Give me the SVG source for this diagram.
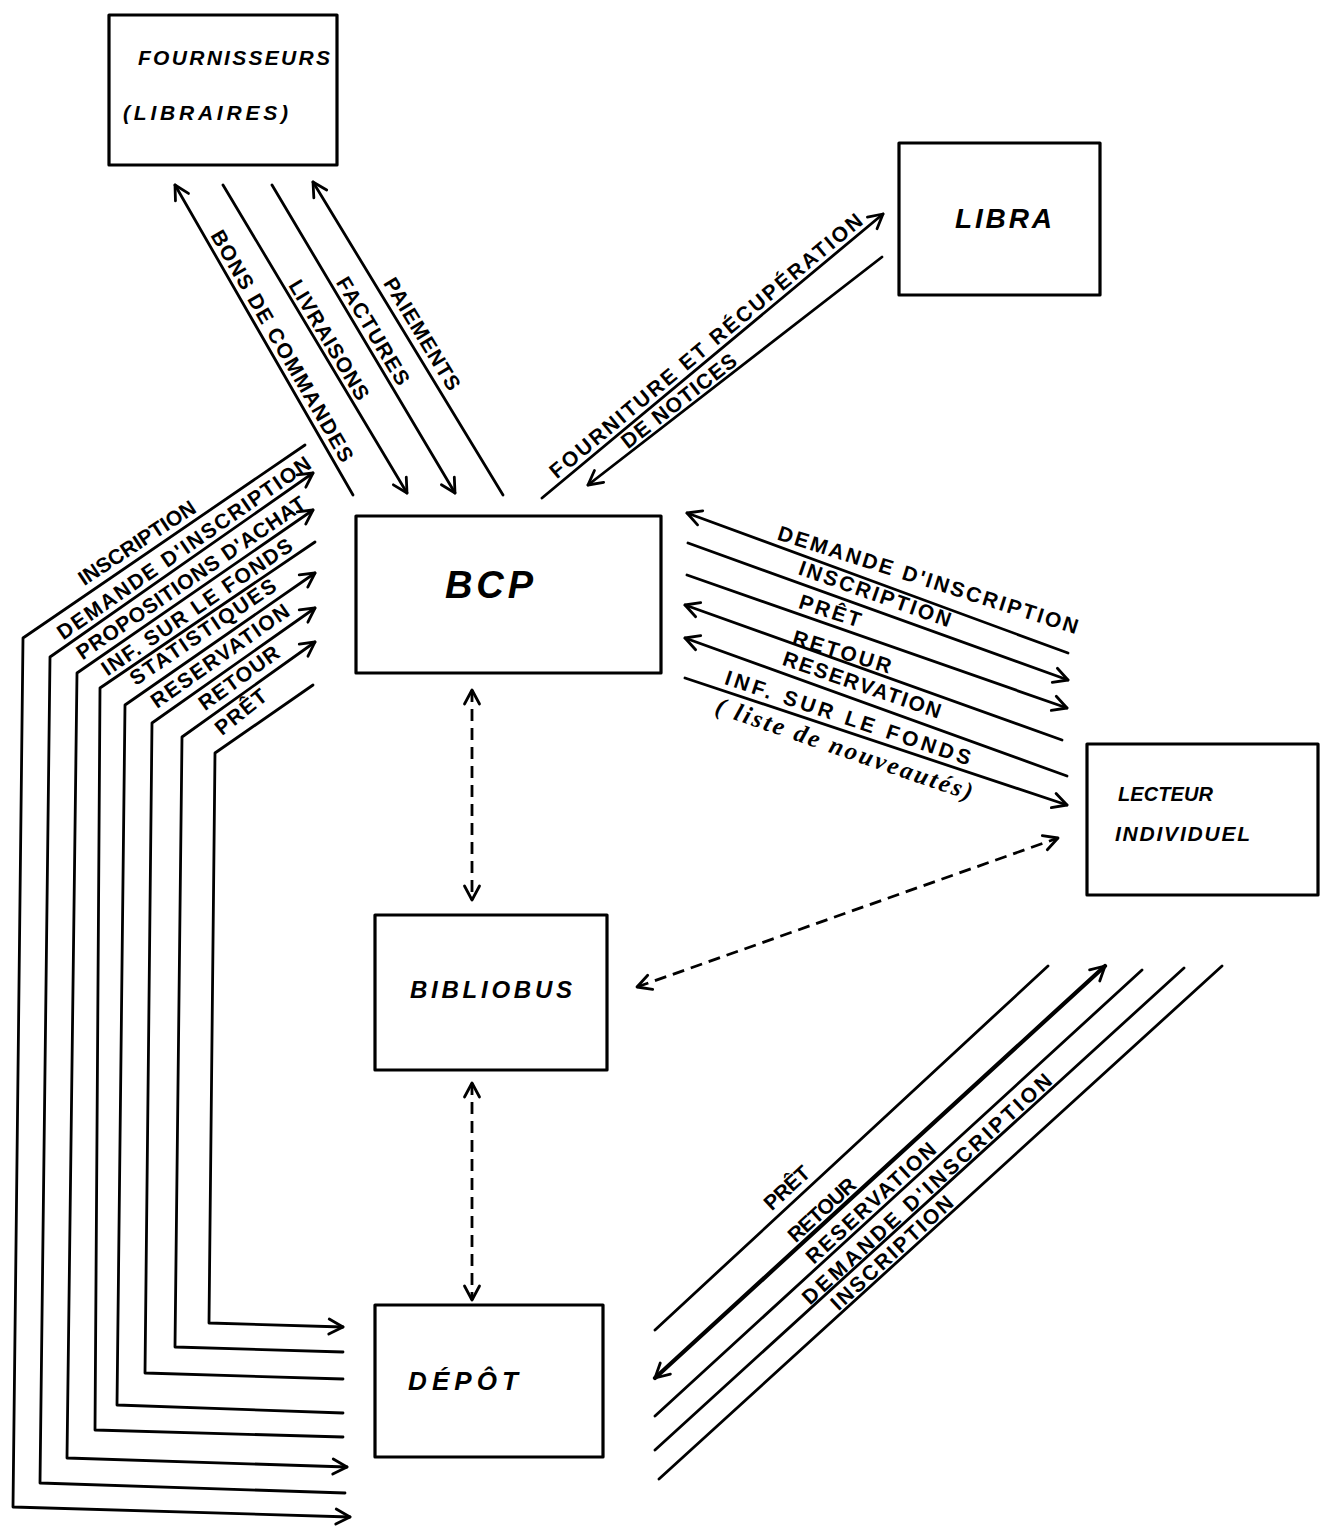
<svg xmlns="http://www.w3.org/2000/svg" width="1321" height="1530" viewBox="0 0 1321 1530">
<style>
.box{fill:none;stroke:#000;stroke-width:3.2;stroke-linejoin:round}
.conn line,.conn polyline{fill:none;stroke:#000;stroke-width:2.8;stroke-linecap:round;stroke-linejoin:round}
.conn .thick{stroke-width:4.2}
.conn .dash{stroke-width:2.8;stroke-dasharray:12 7;stroke-linecap:butt}
.node{font-family:"Liberation Sans",Arial,sans-serif;font-weight:bold;font-style:italic;fill:#000}
.lbl{font-family:"Liberation Sans",Arial,sans-serif;font-weight:bold;font-size:21px;fill:#000}
.hand{font-family:"Liberation Serif","Times New Roman",serif;font-style:italic;font-weight:bold;font-size:25px;fill:#000}
</style>
<defs>
<marker id="ah" viewBox="0 0 20 20" refX="18" refY="10" markerWidth="20" markerHeight="20" markerUnits="userSpaceOnUse" orient="auto-start-reverse">
<path d="M4,2.5 L18,10 L4,17.5" fill="none" stroke="#000" stroke-width="2.8" stroke-linecap="round" stroke-linejoin="round"/>
</marker>
</defs>
<rect width="1321" height="1530" fill="#fff"/>

<g id="fournisseurs">
<rect class="box" x="109" y="15" width="228" height="150"/>
<text class="node" font-size="21" x="138" y="65" textLength="192">FOURNISSEURS</text>
<text class="node" font-size="21" x="123" y="120" textLength="165">(LIBRAIRES)</text>
</g>
<g id="libra">
<rect class="box" x="899" y="143" width="201" height="152"/>
<text class="node" font-size="28" x="955" y="228" textLength="97">LIBRA</text>
</g>
<g id="bcp">
<rect class="box" x="356" y="516" width="305" height="157"/>
<text class="node" font-size="38" x="445" y="598" textLength="88">BCP</text>
</g>
<g id="bibliobus">
<rect class="box" x="375" y="915" width="232" height="155"/>
<text class="node" font-size="24" x="410" y="998" textLength="162">BIBLIOBUS</text>
</g>
<g id="depot">
<rect class="box" x="375" y="1305" width="228" height="152"/>
<text class="node" font-size="26" x="408" y="1390" textLength="110">DÉPÔT</text>
</g>
<g id="lecteur">
<rect class="box" x="1087" y="744" width="231" height="151"/>
<text class="node" font-size="20" x="1118" y="801" textLength="95">LECTEUR</text>
<text class="node" font-size="21" x="1115" y="841" textLength="135">INDIVIDUEL</text>
</g>

<g id="connectors" class="conn">
<line x1="353" y1="495" x2="175" y2="185" marker-end="url(#ah)"/>
<line x1="223" y1="185" x2="407" y2="493" marker-end="url(#ah)"/>
<line x1="272" y1="185" x2="455" y2="493" marker-end="url(#ah)"/>
<line x1="503" y1="495" x2="313" y2="182" marker-end="url(#ah)"/>
<line x1="542" y1="498" x2="883" y2="214" marker-end="url(#ah)"/>
<line x1="882" y1="257" x2="588" y2="485" marker-end="url(#ah)"/>
<line x1="1068" y1="653" x2="687" y2="513" marker-end="url(#ah)"/>
<line x1="688" y1="543" x2="1068" y2="680" marker-end="url(#ah)"/>
<line x1="687" y1="575" x2="1067" y2="708" marker-end="url(#ah)"/>
<line x1="1062" y1="740" x2="685" y2="605" marker-end="url(#ah)"/>
<line x1="1067" y1="776" x2="685" y2="638" marker-end="url(#ah)"/>
<line x1="685" y1="678" x2="1067" y2="805" marker-end="url(#ah)"/>
<line x1="655" y1="1330" x2="1048" y2="966"/>
<line class="thick" x1="655" y1="1378" x2="1105" y2="966" marker-start="url(#ah)" marker-end="url(#ah)"/>
<line x1="655" y1="1416" x2="1142" y2="970"/>
<line x1="655" y1="1450" x2="1184" y2="968"/>
<line x1="659" y1="1479" x2="1222" y2="966"/>
<polyline points="305,445 23,638 13,1507 350,1517" marker-end="url(#ah)"/>
<polyline points="313,473 50,657 40,1483 345,1493" marker-start="url(#ah)"/>
<polyline points="313,510 77,673 67,1458 347,1467" marker-start="url(#ah)" marker-end="url(#ah)"/>
<polyline points="315,542 100,688 95,1430 343,1437"/>
<polyline points="315,573 125,705 117,1405 343,1413" marker-start="url(#ah)"/>
<polyline points="315,608 152,723 145,1373 343,1379" marker-start="url(#ah)"/>
<polyline points="315,642 182,737 175,1347 343,1352" marker-start="url(#ah)"/>
<polyline points="313,685 215,753 209,1323 343,1327" marker-end="url(#ah)"/>
<line class="dash" x1="472" y1="690" x2="472" y2="900" marker-start="url(#ah)" marker-end="url(#ah)"/>
<line class="dash" x1="637" y1="987" x2="1058" y2="838" marker-start="url(#ah)" marker-end="url(#ah)"/>
<line class="dash" x1="472" y1="1083" x2="472" y2="1300" marker-start="url(#ah)" marker-end="url(#ah)"/>
</g>

<g id="labels">
<text class="lbl" transform="translate(282,346) rotate(60)" x="-132" y="7" textLength="264">BONS DE COMMANDES</text>
<text class="lbl" transform="translate(329,340) rotate(59)" x="-68" y="7" textLength="136">LIVRAISONS</text>
<text class="lbl" transform="translate(373,331) rotate(59)" x="-61" y="7" textLength="122">FACTURES</text>
<text class="lbl" transform="translate(422,334) rotate(58.7)" x="-64" y="7" textLength="128">PAIEMENTS</text>
<text class="lbl" transform="translate(706,346) rotate(-39.8)" x="-200" y="7" textLength="400">FOURNITURE ET RÉCUPÉRATION</text>
<text class="lbl" transform="translate(679,401) rotate(-37.8)" x="-70" y="7" textLength="140">DE NOTICES</text>
<text class="lbl" transform="translate(928,580) rotate(17.6)" x="-157" y="7" textLength="314">DEMANDE D'INSCRIPTION</text>
<text class="lbl" transform="translate(875,594) rotate(19.5)" x="-80" y="7" textLength="160">INSCRIPTION</text>
<text class="lbl" transform="translate(830,611) rotate(18)" x="-32" y="7" textLength="64">PRÊT</text>
<text class="lbl" transform="translate(842,652) rotate(17)" x="-51" y="7" textLength="102">RETOUR</text>
<text class="lbl" transform="translate(862,685) rotate(19)" x="-83" y="7" textLength="166">RESERVATION</text>
<text class="lbl" transform="translate(848,718) rotate(18.5)" x="-129" y="7" textLength="258">INF. SUR LE FONDS</text>
<text class="hand" transform="translate(844,750) rotate(19)" x="-135" y="7" textLength="270">( liste de nouveautés)</text>
<text class="lbl" transform="translate(137,543) rotate(-33.5)" x="-68" y="7" textLength="136">INSCRIPTION</text>
<text class="lbl" transform="translate(184,548) rotate(-34.8)" x="-152" y="7" textLength="304">DEMANDE D'INSCRIPTION</text>
<text class="lbl" transform="translate(191,578) rotate(-34.3)" x="-136" y="7" textLength="272">PROPOSITIONS D'ACHAT</text>
<text class="lbl" transform="translate(197,607) rotate(-34.3)" x="-113" y="7" textLength="226">INF. SUR LE FONDS</text>
<text class="lbl" transform="translate(203,632) rotate(-34.2)" x="-86" y="7" textLength="172">STATISTIQUES</text>
<text class="lbl" transform="translate(220,656) rotate(-35.1)" x="-82" y="7" textLength="164">RESERVATION</text>
<text class="lbl" transform="translate(239,678) rotate(-35.9)" x="-47" y="7" textLength="94">RETOUR</text>
<text class="lbl" transform="translate(241,712) rotate(-39)" x="-30" y="7" textLength="60">PRÊT</text>
<text class="lbl" transform="translate(787,1188) rotate(-42.5)" x="-27" y="7" textLength="54">PRÊT</text>
<text class="lbl" transform="translate(822,1210) rotate(-42.5)" x="-42" y="7" textLength="84">RETOUR</text>
<text class="lbl" transform="translate(871,1203) rotate(-42.5)" x="-84" y="7" textLength="168">RESERVATION</text>
<text class="lbl" transform="translate(927,1189) rotate(-42.5)" x="-165" y="7" textLength="330">DEMANDE D'INSCRIPTION</text>
<text class="lbl" transform="translate(892,1253) rotate(-42.5)" x="-79" y="7" textLength="158">INSCRIPTION</text>
</g>
</svg>
